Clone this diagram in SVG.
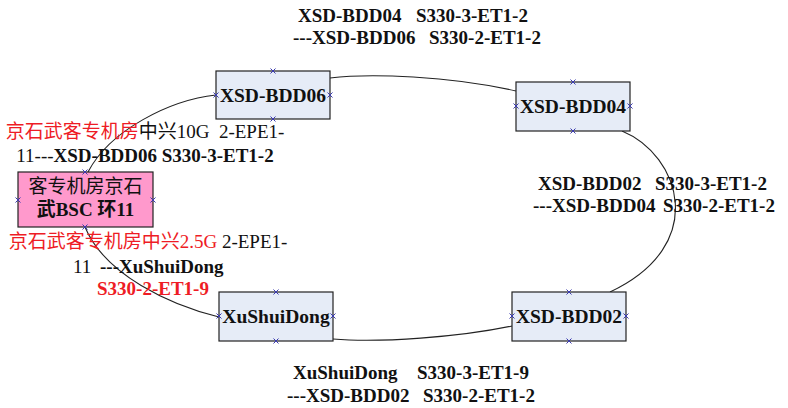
<svg xmlns="http://www.w3.org/2000/svg" width="788" height="408" viewBox="0 0 788 408">
<defs>
<style>
.bg{fill:#ffffff}
.link{fill:none;stroke:#222;stroke-width:1.1}
.box{fill:#e6ecf7;stroke:#222;stroke-width:1.2}
.pink{fill:#ff99cc;stroke:#222;stroke-width:1.2}
.cp{stroke:#3a3ab0;stroke-width:1;fill:none}
text{font-family:"Liberation Serif","Noto Sans CJK SC",serif;font-size:19px;fill:#111}
.b{font-weight:bold}
.n{font-size:19.5px;font-weight:bold;text-anchor:middle}
.red{fill:#ee1c25}
</style>
<path id="x" d="M-2.5,-2.5L2.5,2.5M-2.5,2.5L2.5,-2.5" class="cp"/>
</defs>
<rect class="bg" x="0" y="0" width="788" height="408"/>

<g id="connectors">
<path class="link" d="M330,78 C370,73 450,76 516,91"/>
<path class="link" d="M622,131 C680,155 710,245 610,292"/>
<path class="link" d="M333,339 C380,343 460,337 512,326"/>
<path class="link" d="M88,172 C110,130 170,100 216,95"/>
<path class="link" d="M85,227 C105,275 170,305 219,317"/>
</g>

<g id="node-bdd06">
<rect class="box" x="216" y="71" width="114" height="48"/>
<text class="n" x="273" y="101.5">XSD-BDD06</text>
<use href="#x" x="273" y="71"/><use href="#x" x="273" y="119"/><use href="#x" x="216" y="95"/><use href="#x" x="330" y="95"/>
</g>

<g id="node-bdd04">
<rect class="box" x="516" y="82" width="114" height="49"/>
<text class="n" x="573" y="112.5">XSD-BDD04</text>
<use href="#x" x="573" y="82"/><use href="#x" x="573" y="131"/><use href="#x" x="516" y="106"/><use href="#x" x="630" y="106"/>
</g>

<g id="node-bdd02">
<rect class="box" x="512" y="292" width="114" height="49"/>
<text class="n" x="569" y="322.5">XSD-BDD02</text>
<use href="#x" x="569" y="292"/><use href="#x" x="569" y="341"/><use href="#x" x="512" y="316"/><use href="#x" x="626" y="316"/>
</g>

<g id="node-xushuidong">
<rect class="box" x="219" y="292" width="114" height="49"/>
<text class="n" x="276" y="322.5">XuShuiDong</text>
<use href="#x" x="276" y="292"/><use href="#x" x="276" y="341"/><use href="#x" x="219" y="316"/><use href="#x" x="333" y="316"/>
</g>

<g id="node-bsc">
<rect class="pink" x="18" y="172" width="135" height="55"/>
<text x="85.5" y="193" text-anchor="middle">客专机房京石</text>
<text x="85.5" y="216" text-anchor="middle" class="b">武BSC 环11</text>
<use href="#x" x="85" y="172"/><use href="#x" x="85" y="227"/><use href="#x" x="18" y="200"/><use href="#x" x="153" y="200"/>
</g>

<g id="labels">
<text class="b" y="22"><tspan x="298">XSD-BDD04</tspan><tspan x="416">S330-3-ET1-2</tspan></text>
<text class="b" y="44"><tspan x="293">---XSD-BDD06</tspan><tspan x="429">S330-2-ET1-2</tspan></text>

<text class="b" y="190"><tspan x="538">XSD-BDD02</tspan><tspan x="655">S330-3-ET1-2</tspan></text>
<text class="b" y="212"><tspan x="533">---XSD-BDD04</tspan><tspan x="663">S330-2-ET1-2</tspan></text>

<text class="b" y="379"><tspan x="293">XuShuiDong</tspan><tspan x="417">S330-3-ET1-9</tspan></text>
<text class="b" y="402"><tspan x="287">---XSD-BDD02</tspan><tspan x="423">S330-2-ET1-2</tspan></text>

<text x="145" y="138" text-anchor="middle" xml:space="preserve"><tspan class="red">京石武客专机房</tspan>中兴10G  2-EPE1-</text>
<text x="145" y="162" text-anchor="middle">11---<tspan class="b">XSD-BDD06 S330-3-ET1-2</tspan></text>

<text x="148" y="248" text-anchor="middle"><tspan class="red">京石武客专机房中兴2.5G</tspan> 2-EPE1-</text>
<text y="273"><tspan x="73">11</tspan><tspan x="100" class="b">---XuShuiDong</tspan></text>
<text x="97" y="295" class="b red">S330-2-ET1-9</text>
</g>
</svg>
